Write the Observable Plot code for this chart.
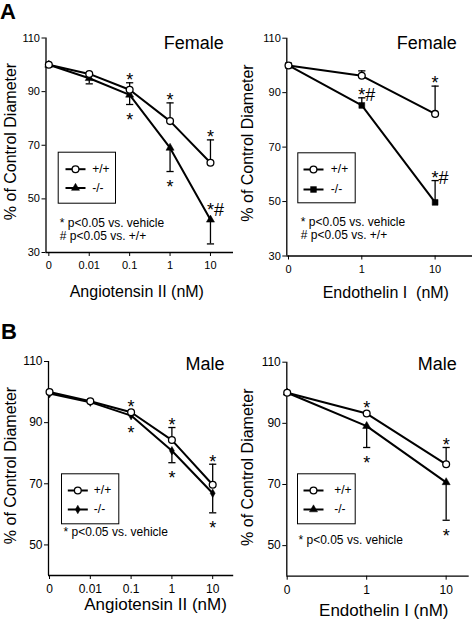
<!DOCTYPE html>
<html>
<head>
<meta charset="utf-8">
<script src="https://cdn.jsdelivr.net/npm/d3@7"></script>
<script src="https://cdn.jsdelivr.net/npm/@observablehq/plot@0.6"></script>
<style>
  html, body { margin: 0; padding: 0; background: #fff; }
  #fig { position: relative; width: 474px; height: 620px; font-family: "Liberation Sans", Arial, Helvetica, sans-serif; color: #000; }
  .panel { position: absolute; width: 237px; height: 310px; }
  .letter { position: absolute; font-weight: bold; font-size: 22px; line-height: 22px; }
</style>
</head>
<body>
<div id="fig">
  <div class="panel" id="pA1" style="left:0;top:0"></div>
  <div class="panel" id="pA2" style="left:237px;top:0"></div>
  <div class="panel" id="pB1" style="left:0;top:310px"></div>
  <div class="panel" id="pB2" style="left:237px;top:310px"></div>
  <div class="letter" style="left:0;top:1px">A</div>
  <div class="letter" style="left:1px;top:321px">B</div>
</div>
<script>
// ---------- data ----------
const angDoses = ["0", "0.01", "0.1", "1", "10"];
const etDoses = ["0", "1", "10"];
const yTicksA = [30, 50, 70, 90, 110];
const yTicksB = [50, 70, 90, 110];
const seriesLabels = ["+/+", "-/-"];
const yLabel = "% of Control Diameter";
const angLabel = "Angiotensin II (nM)";
const etLabelFemale = "Endothelin I\u00a0 (nM)";
const etLabelMale = "Endothelin I (nM)";
const notesTwo = ["* p<0.05 vs. vehicle", "# p<0.05 vs. +/+"];
const notesOne = ["* p<0.05 vs. vehicle"];

// Female, Angiotensin II
const femAngWT = [100, 96.6, 90.7, 79.0, 63.5];
const femAngWTerr = [0, 0, 2.6, 6.8, 8.5];
const femAngWTsig = ["", "", "*", "*", "*"];
const femAngKO = [100, 95.0, 88.8, 69.0, 42.2];
const femAngKOerr = [0, -2.1, -3.6, -8.8, -9.0];
const femAngKOsig = ["", "", "*", "*", "*#"];
// Female, Endothelin I
const femEtWT = [100, 96.2, 82.2];
const femEtWTerr = [0, 1.8, 10.2];
const femEtWTsig = ["", "", "*"];
const femEtKO = [100, 85.3, 49.7];
const femEtKOerr = [0, 2.8, 8.0];
const femEtKOsig = ["", "*#", "*#"];
// Male, Angiotensin II
const maleAngWT = [100, 97.0, 93.4, 84.3, 69.7];
const maleAngWTerr = [0, 0, 0, 4.1, 6.7];
const maleAngWTsig = ["", "", "*", "*", "*"];
const maleAngKO = [99.5, 96.7, 92.3, 80.8, 66.9];
const maleAngKOerr = [0, 0, 0, -3.9, -6.4];
const maleAngKOsig = ["", "", "*", "*", "*"];
// Male, Endothelin I
const maleEtWT = [100, 93.2, 76.6];
const maleEtWTerr = [0, 0, 5.5];
const maleEtWTsig = ["", "*", "*"];
const maleEtKO = [100, 89.1, 70.7];
const maleEtKOerr = [0, -7.0, -12.4];
const maleEtKOsig = ["", "*", "*"];

// ---------- drawing ----------
const FONT = "'Liberation Sans', Arial, Helvetica, sans-serif";
const hline = { draw(ctx, size) { const r = Math.sqrt(size / Math.PI); ctx.moveTo(-r, 0); ctx.lineTo(r, 0); } };
const STAR = 18;

function makePanel(cfg) {
  const W = 237, H = 310;
  const { ml, mr, mt, mb } = cfg;
  const fL = ml, fR = W - mr, fT = mt, fB = H - mb;
  const at = (text, x, y, o = {}) => Plot.text([text], {
    frameAnchor: "top-left", dx: x - fL, dy: y - fT, text: d => d, lineAnchor: "middle", ...o
  });
  const wt = cfg.doses.map((d, i) => ({ i, v: cfg.wt[i], e: cfg.wtErr[i], sig: cfg.wtSig[i], up: true }));
  const ko = cfg.doses.map((d, i) => ({ i, v: cfg.ko[i], e: cfg.koErr[i], sig: cfg.koSig[i], up: false }));
  const all = [...wt, ...ko];
  all.forEach(d => d.end = d.v + d.e);
  const bars = all.filter(d => d.e !== 0);

  const starMarks = all.filter(d => d.sig).map(d => {
    const hash = d.sig.includes("#");
    let yv, off;
    if (d.e > 0) { yv = d.end; off = -7; }
    else if (d.e < 0 && !hash) { yv = d.end; off = 11; }
    else if (d.e < 0 && hash) { yv = d.v; off = -14; }
    else { yv = d.v; off = d.up ? -10 : 13; }
    return Plot.text([{ i: d.i, y: yv, label: d.sig }], {
      x: "i", y: "y", text: "label", fontSize: STAR, lineAnchor: "middle",
      textAnchor: hash ? "start" : "middle", dx: hash ? -3.5 : 0, dy: off + 0.255 * STAR
    });
  });

  const [bx0, by0, bx1, by1] = cfg.legendBox;
  const legend = [
    Plot.frame({ stroke: "black", strokeWidth: 1, insetLeft: bx0 - fL, insetTop: by0 - fT, insetRight: fR - bx1, insetBottom: fB - by1 })
  ];
  seriesLabels.forEach((lab, k) => {
    const ry = cfg.legendRows[k] - fT;
    const base = { frameAnchor: "top-left", dx: cfg.legendLineX - fL, dy: ry };
    legend.push(Plot.dot([lab], { ...base, symbol: hline, r: 10, stroke: "black", strokeWidth: 2, fill: "none" }));
    legend.push(k === 0
      ? Plot.dot([lab], { ...base, symbol: "circle", r: 3.4, fill: "white", stroke: "black", strokeWidth: 1.3 })
      : Plot.dot([lab], { ...base, symbol: cfg.koSymbol, r: cfg.koR, fill: "black", stroke: "black", strokeWidth: 0.5 }));
    legend.push(at(lab, cfg.legendTextX, cfg.legendRows[k], { textAnchor: "start", fontSize: 12 }));
  });

  const notes = cfg.notes.map((t, k) => at(t, cfg.notesX, cfg.notesY[k], { textAnchor: "start", fontSize: 12 }));

  return Plot.plot({
    width: W, height: H,
    marginLeft: ml, marginRight: mr, marginTop: mt, marginBottom: mb,
    style: { fontFamily: FONT, fontSize: cfg.tickFont + "px", background: "white", color: "black", overflow: "visible" },
    x: { type: "linear", domain: cfg.xDomain, ticks: cfg.doses.map((d, i) => i), tickFormat: i => cfg.doses[i], tickSize: 4, tickPadding: 5, label: null },
    y: { domain: cfg.yDomain, ticks: cfg.yTicks, tickFormat: d => String(d), tickSize: 4, tickPadding: 2, label: null },
    marks: [
      Plot.ruleX([cfg.xDomain[0]], { stroke: "black", strokeWidth: 1.3 }),
      Plot.ruleY([cfg.yDomain[0]], { stroke: "black", strokeWidth: 1.3 }),
      Plot.ruleX(bars, { x: "i", y1: "v", y2: "end", stroke: "black", strokeWidth: 1.3 }),
      Plot.dot(bars, { x: "i", y: "end", symbol: hline, r: 3.6, stroke: "black", strokeWidth: 1.3, fill: "none" }),
      Plot.line(ko, { x: "i", y: "v", stroke: "black", strokeWidth: 2 }),
      Plot.line(wt, { x: "i", y: "v", stroke: "black", strokeWidth: 2 }),
      Plot.dot(ko, { x: "i", y: "v", symbol: cfg.koSymbol, r: cfg.koR, fill: "black", stroke: "black", strokeWidth: 0.5 }),
      Plot.dot(wt, { x: "i", y: "v", symbol: "circle", r: 3.4, fill: "white", stroke: "black", strokeWidth: 1.3 }),
      ...starMarks,
      ...legend,
      ...notes,
      at(cfg.title, cfg.titleRight, cfg.titleY, { textAnchor: "end", fontSize: 18 }),
      at(cfg.xLabel, cfg.xLabelX, cfg.xLabelY, { textAnchor: "middle", fontSize: cfg.xLabelFont }),
      at(yLabel, cfg.yLabelX, cfg.yLabelY, { textAnchor: "middle", rotate: -90, fontSize: 16 })
    ]
  });
}

const panels = [
  { el: "pA1", doses: angDoses, wt: femAngWT, wtErr: femAngWTerr, wtSig: femAngWTsig, ko: femAngKO, koErr: femAngKOerr, koSig: femAngKOsig,
    koSymbol: "triangle", koR: 3, ml: 45.5, mr: 4, mt: 37.5, mb: 58, xDomain: [-0.07, 4.57], yDomain: [30, 110], yTicks: yTicksA, tickFont: 11,
    legendBox: [57.7, 151.7, 115, 202.7], legendRows: [168.7, 187.5], legendLineX: 75, legendTextX: 91.7,
    notes: notesTwo, notesX: 59.3, notesY: [222.7, 235.5],
    title: "Female", titleRight: 223.3, titleY: 42.7,
    xLabel: angLabel, xLabelX: 136.3, xLabelY: 291.3, xLabelFont: 16, yLabelX: 10, yLabelY: 141 },
  { el: "pA2", doses: etDoses, wt: femEtWT, wtErr: femEtWTerr, wtSig: femEtWTsig, ko: femEtKO, koErr: femEtKOerr, koSig: femEtKOsig,
    koSymbol: "square", koR: 3.3, ml: 49.3, mr: 2, mt: 37.7, mb: 54.5, xDomain: [-0.023, 2.51], yDomain: [30, 110], yTicks: yTicksA, tickFont: 11,
    legendBox: [60.3, 152.3, 117.7, 202.3], legendRows: [169, 189], legendLineX: 76, legendTextX: 93.3,
    notes: notesTwo, notesX: 63.3, notesY: [221.7, 235],
    title: "Female", titleRight: 219.3, titleY: 42.7,
    xLabel: etLabelFemale, xLabelX: 148.3, xLabelY: 292.3, xLabelFont: 16, yLabelX: 10, yLabelY: 142.5 },
  { el: "pB1", doses: angDoses, wt: maleAngWT, wtErr: maleAngWTerr, wtSig: maleAngWTsig, ko: maleAngKO, koErr: maleAngKOerr, koSig: maleAngKOsig,
    koSymbol: "diamond", koR: 2.6, ml: 48, mr: 3.8, mt: 51, mb: 45, xDomain: [-0.025, 4.515], yDomain: [40, 110], yTicks: yTicksB, tickFont: 12,
    legendBox: [61, 163.3, 118.3, 213.3], legendRows: [180, 199], legendLineX: 77.3, legendTextX: 93.3,
    notes: notesOne, notesX: 63, notesY: [221.7],
    title: "Male", titleRight: 224, titleY: 53.3,
    xLabel: angLabel, xLabelX: 155, xLabelY: 294.3, xLabelFont: 17, yLabelX: 10.7, yLabelY: 155 },
  { el: "pB2", doses: etDoses, wt: maleEtWT, wtErr: maleEtWTerr, wtSig: maleEtWTsig, ko: maleEtKO, koErr: maleEtKOerr, koSig: maleEtKOsig,
    koSymbol: "triangle", koR: 3, ml: 49.3, mr: 5.3, mt: 51.7, mb: 44.3, xDomain: [-0.005, 2.29], yDomain: [40, 110], yTicks: yTicksB, tickFont: 12,
    legendBox: [60, 163.3, 117.7, 213.3], legendRows: [180, 199], legendLineX: 76, legendTextX: 96.7,
    notes: notesOne, notesX: 61, notesY: [229.3],
    title: "Male", titleRight: 219.3, titleY: 53.3,
    xLabel: etLabelMale, xLabelX: 146.3, xLabelY: 300, xLabelFont: 17, yLabelX: 10, yLabelY: 156.7 }
];

for (const cfg of panels) {
  document.getElementById(cfg.el).appendChild(makePanel(cfg));
}
</script>
</body>
</html>
